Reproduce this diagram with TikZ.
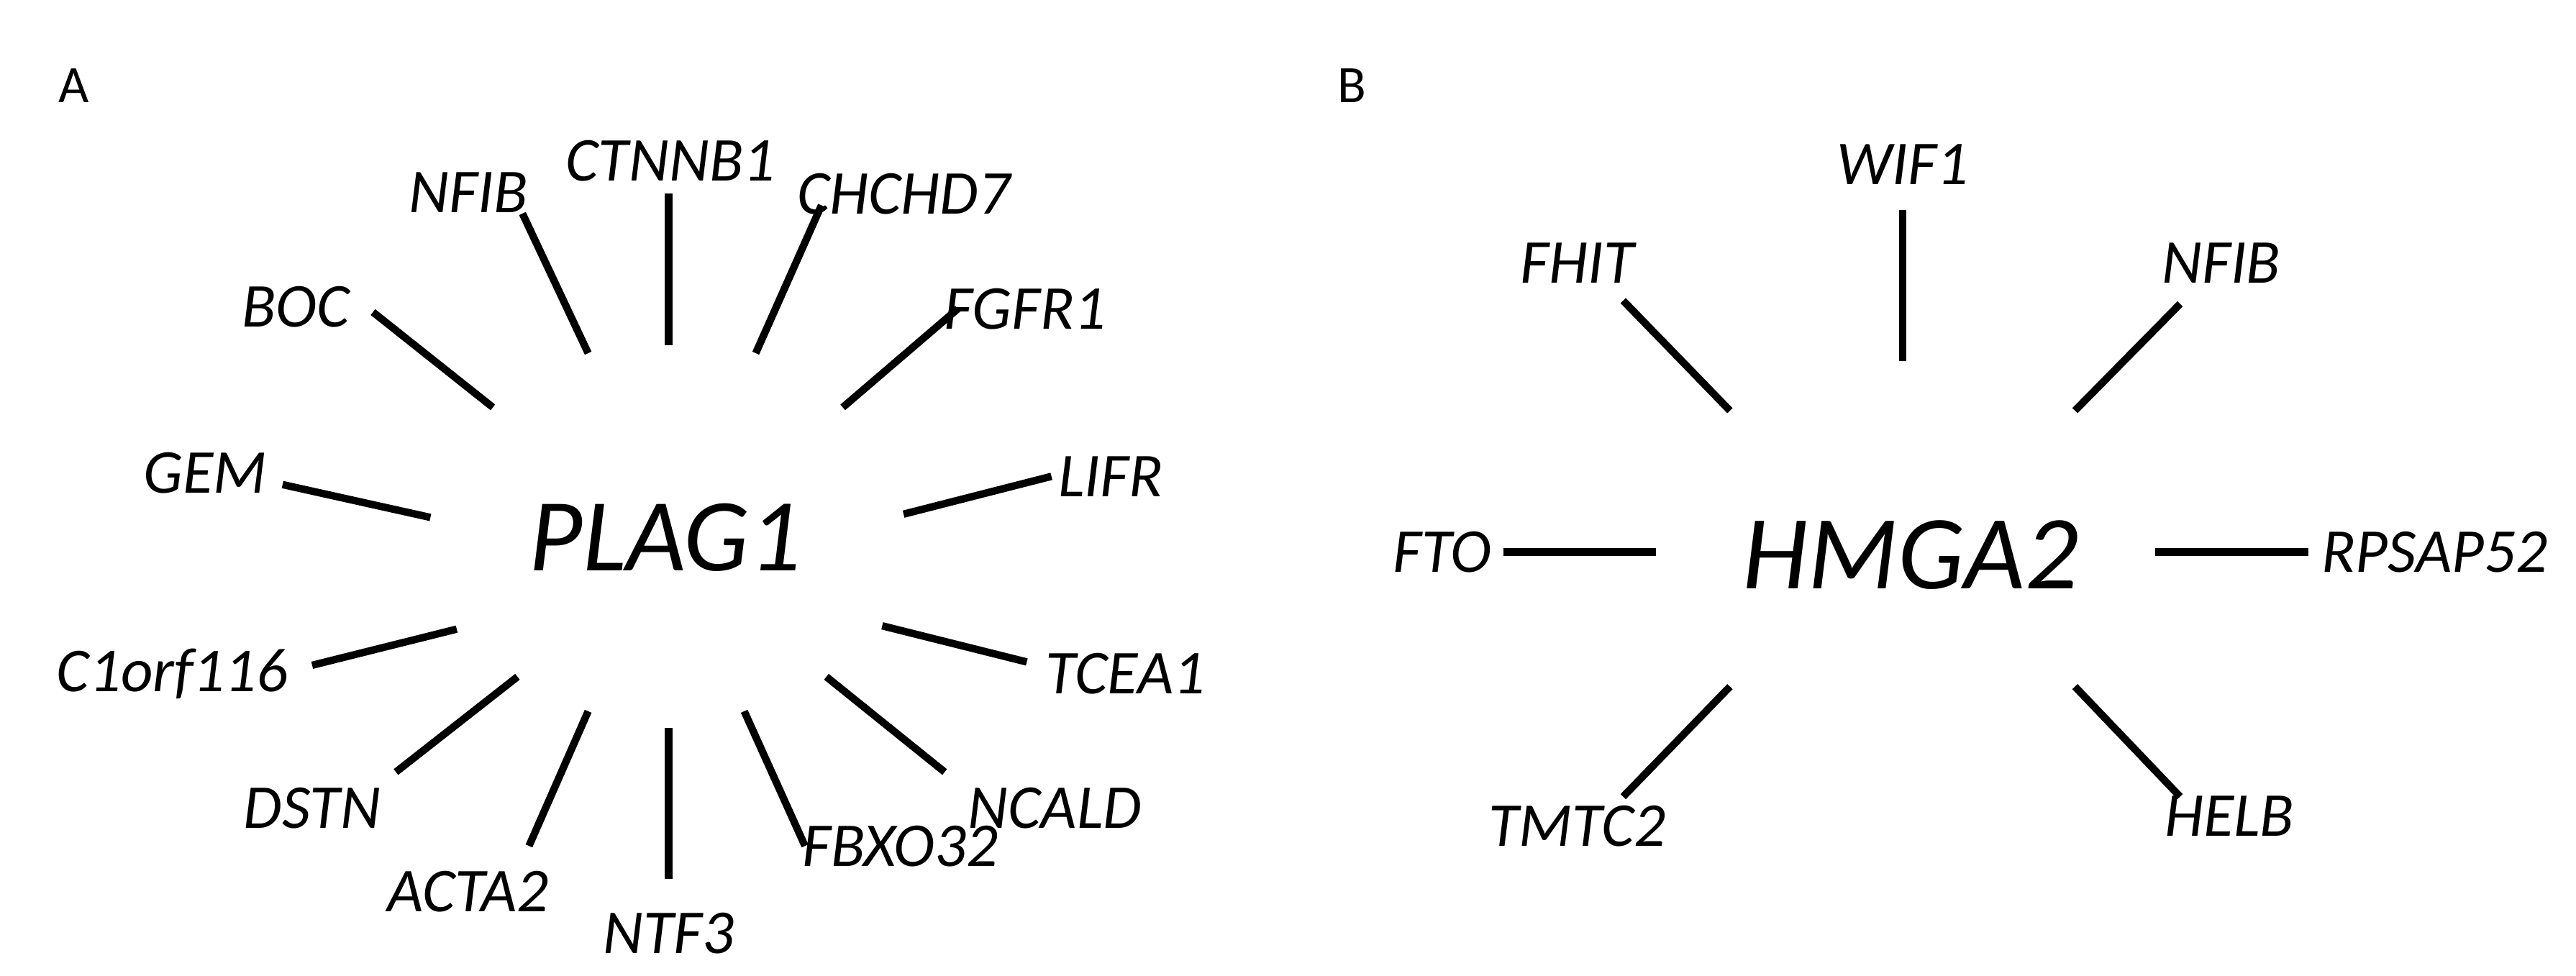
\documentclass[tikz,border=0pt]{standalone}
\usepackage{fontspec}
\setmainfont{Carlito}
\begin{document}
\begin{tikzpicture}[x=1pt,y=-1pt,
  lab/.style={font=\fontsize{38}{42}\selectfont\itshape,inner sep=0pt},
  hub/.style={font=\fontsize{63}{68}\selectfont\itshape,inner sep=0pt},
  pan/.style={font=\fontsize{32}{36}\selectfont,inner sep=0pt},
  edge/.style={line width=4.5pt}]
\useasboundingbox (0,0) rectangle (1568,594);
\node[pan] (pA) at (45,52) {A};
\node[pan] (pB) at (823,52) {B};
\node[hub] (plag) at (405,327) {PLAG1};
\node[hub,font=\fontsize{64}{70}\selectfont\itshape] (hmga) at (1163,338) {HMGA2};
\foreach \n/\t/\lx/\ly/\ax/\ay/\bx/\by in {
 a1/NFIB/285/117/318/130/358/215,
 a2/CTNNB1/408/98/407/118/407/210,
 a3/CHCHD7/550/118/500/125/460/215,
 a4/FGFR1/624/188/583/188/513/248,
 a5/LIFR/676/290/640/290/550/313,
 a6/TCEA1/685/410/625/403/537/381,
 a7/NCALD/642/492/575/470/503/412,
 a8/FBXO32/548/515/490/515/453/433,
 a9/NTF3/407/568/407/535/407/443,
 a10/ACTA2/285/543/322/515/358/433,
 a11/DSTN/190/492/241/470/315/412,
 a12/C1orf116/105/410/190/405/278/383,
 a13/GEM/125/288/172/295/262/315,
 a14/BOC/180/187/227/190/300/248,
 b1/WIF1/1158/100/1158/128/1158/220,
 b2/FHIT/960/160/988/183/1053/250,
 b3/NFIB/1352/160/1327/185/1263/250,
 b4/FTO/878/336/915/336/1008/336,
 b5/RPSAP52/1482/336/1312/336/1405/336,
 b6/TMTC2/960/503/988/485/1053/418,
 b7/HELB/1357/497/1327/485/1263/418}{
  \node[lab] (\n) at (\lx,\ly) {\t};
  \coordinate (\n s) at (\ax,\ay);
  \coordinate (\n e) at (\bx,\by);
  \draw[edge] (\n s) -- (\n e);
}
\end{tikzpicture}
\end{document}
